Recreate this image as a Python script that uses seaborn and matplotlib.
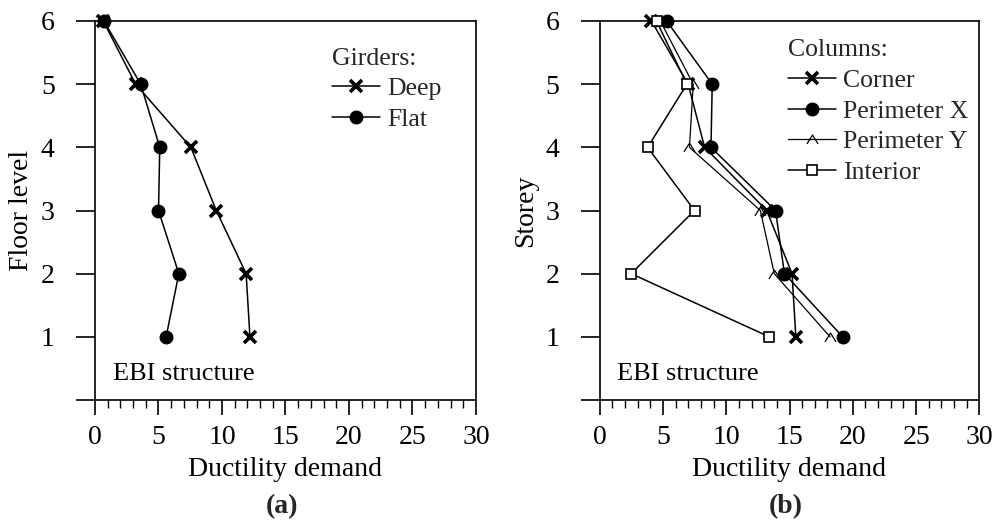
import numpy as np
import pandas as pd
import matplotlib
matplotlib.use("Agg")
import matplotlib.pyplot as plt
from matplotlib.path import Path
from matplotlib.ticker import MultipleLocator
import seaborn as sns

# ---- data ----
floors = [6, 5, 4, 3, 2, 1]
deep = [0.65, 3.2, 7.55, 9.55, 11.9, 12.2]
flat = [0.7, 3.6, 5.1, 5.0, 6.6, 5.6]

corner = [4.1, 7.0, 8.3, 13.2, 15.2, 15.5]
perim_x = [5.3, 8.9, 8.8, 13.9, 14.6, 19.2]
perim_y = [4.8, 7.4, 7.1, 12.7, 13.8, 18.2]
interior = [4.5, 6.9, 3.8, 7.5, 2.5, 13.4]

x_ticks = [0, 5, 10, 15, 20, 25, 30]
y_ticks = [0, 1, 2, 3, 4, 5, 6]
y_ticklabels = ["", "1", "2", "3", "4", "5", "6"]

sns.set_theme(style="white")
plt.rcParams["font.family"] = ["Liberation Serif", "DejaVu Serif"]

FS = 20
LFS = 18.5
chevron = Path([(-1, -0.8), (0, 0.8), (1, -0.8)],
               [Path.MOVETO, Path.LINETO, Path.LINETO])

fig = plt.figure(figsize=(9.95, 5.24), dpi=100)
axL = fig.add_axes([95 / 995, 1 - 400 / 524, 381 / 995, 379 / 524])
axR = fig.add_axes([599.5 / 995, 1 - 400 / 524, 380 / 995, 379 / 524])


def draw(ax, vals, label, marker, ms, mew, mfc, lw=1.1):
    df = pd.DataFrame({"x": vals, "y": floors})
    sns.lineplot(data=df, x="x", y="y", sort=False, ax=ax, color="black",
                 linewidth=lw, marker=marker, markersize=ms,
                 markeredgewidth=mew, markerfacecolor=mfc,
                 markeredgecolor="black", label=label, clip_on=False,
                 zorder=3)


draw(axL, deep, "Deep", "x", 8, 2.6, "black")
draw(axL, flat, "Flat", "o", 9, 1, "black")

draw(axR, corner, "Corner", "x", 8, 2.6, "black")
draw(axR, perim_x, "Perimeter X", "o", 9, 1, "black")
draw(axR, perim_y, "Perimeter Y", chevron, 8, 0.9, "none", lw=0.9)
draw(axR, interior, "Interior", "s", 7.5, 1.2, "white")

for ax, ylab, title, anchor in [(axL, "Floor level", "Girders:", (0.623, 0.93)),
                                (axR, "Storey", "Columns:", (0.497, 0.952))]:
    ax.set_xlim(0, 30)
    ax.set_ylim(0, 6)
    ax.set_xticks(x_ticks)
    ax.xaxis.set_minor_locator(MultipleLocator(1))
    ax.set_yticks(y_ticks)
    ax.set_yticklabels(y_ticklabels)
    ax.tick_params(axis="x", which="major", direction="out", length=11,
                   width=1.2, pad=7, labelsize=FS, bottom=True,
                   color="black", labelcolor="black")
    ax.tick_params(axis="x", which="minor", direction="out", length=6,
                   width=1.0, bottom=True, color="black")
    ax.tick_params(axis="y", which="major", direction="out", length=14,
                   width=1.2, pad=15, labelsize=FS, left=True,
                   color="black", labelcolor="black")
    for s in ax.spines.values():
        s.set_color("black")
        s.set_linewidth(1.2)
        s.set_visible(True)
    ax.set_xlabel("Ductility demand", fontsize=FS, color="black", labelpad=5)
    ax.set_ylabel(ylab, fontsize=FS, color="black", labelpad=5)
    ax.text(1.4, 0.41, "EBI structure", fontsize=19, color="black",
            va="center", ha="left")
    leg = ax.legend(title=title, loc="upper left", bbox_to_anchor=anchor,
                    frameon=False, fontsize=LFS, title_fontsize=LFS,
                    handlelength=1.85, handletextpad=0.27, labelspacing=0.3,
                    borderpad=0, borderaxespad=0, alignment="left")

fig.text(282 / 995, 1 - 507 / 524, "(a)", fontsize=FS, fontweight="bold",
         ha="center", va="center")
fig.text(786 / 995, 1 - 507 / 524, "(b)", fontsize=FS, fontweight="bold",
         ha="center", va="center")

fig.savefig("out.png", dpi=100)
